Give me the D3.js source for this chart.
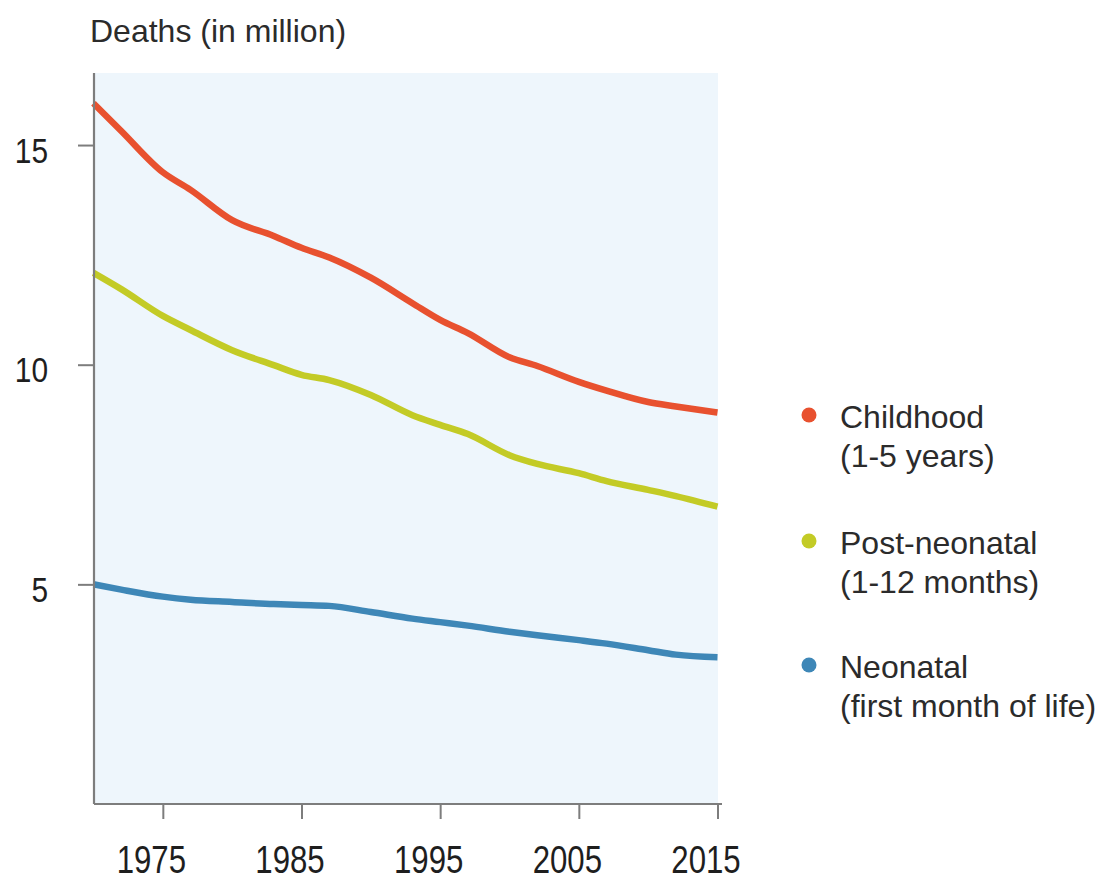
<!DOCTYPE html>
<html>
<head>
<meta charset="utf-8">
<script src="https://cdn.jsdelivr.net/npm/d3@7"></script>
<style>
  html, body { margin: 0; padding: 0; background: #ffffff; }
  svg { display: block; font-family: "Liberation Sans", Arial, Helvetica, sans-serif; }
</style>
</head>
<body>
<svg id="chart" width="1105" height="882"></svg>
<script>
// Under-five deaths worldwide, by age group (millions)
const years = [1970, 1972, 1975, 1977, 1980, 1983, 1985, 1987, 1990, 1993, 1995, 1997, 2000, 2002, 2005, 2007, 2010, 2012, 2015];

const childhood    = [15.95, 15.32, 14.38, 13.98, 13.29, 12.93, 12.66, 12.44, 11.98, 11.40, 11.02, 10.72, 10.17, 9.97, 9.61, 9.41, 9.15, 9.05, 8.91];
const postNeonatal = [12.09, 11.72, 11.11, 10.79, 10.33, 9.99, 9.77, 9.65, 9.31, 8.85, 8.63, 8.42, 7.94, 7.74, 7.53, 7.35, 7.15, 7.01, 6.77];
const neonatal     = [5.00, 4.88, 4.72, 4.65, 4.60, 4.55, 4.53, 4.51, 4.37, 4.22, 4.14, 4.06, 3.92, 3.84, 3.73, 3.65, 3.50, 3.40, 3.34];

const xTicks = [1975, 1985, 1995, 2005, 2015];
const yTicks = [5, 10, 15];

const seriesNames = ["Childhood", "Post-neonatal", "Neonatal"];
const seriesSubtitles = ["(1-5 years)", "(1-12 months)", "(first month of life)"];
const seriesColors = ["#e8512f", "#c3cb26", "#3e87b7"];
const seriesValues = [childhood, postNeonatal, neonatal];

const svg = d3.select("#chart");

const plot = { left: 94, right: 718, top: 73, bottom: 804 };

const x = d3.scaleLinear().domain([1970, 2015]).range([93.5, 717.5]);
const y = d3.scaleLinear().domain([0, 16.64]).range([plot.bottom, plot.top]);

// plot background
svg.append("rect")
  .attr("x", plot.left)
  .attr("y", plot.top)
  .attr("width", plot.right - plot.left)
  .attr("height", plot.bottom - plot.top)
  .attr("fill", "#eef6fc");

// axis title
svg.append("text")
  .attr("x", 90)
  .attr("y", 42)
  .attr("font-size", 32)
  .attr("fill", "#2b2b2b")
  .text("Deaths (in million)");

// lines
const line = d3.line()
  .x(d => x(d[0]))
  .y(d => y(d[1]))
  .curve(d3.curveMonotoneX);

seriesValues.forEach((vals, i) => {
  svg.append("path")
    .datum(years.map((yr, j) => [yr, vals[j]]))
    .attr("d", line)
    .attr("fill", "none")
    .attr("stroke", seriesColors[i])
    .attr("stroke-width", 6.5)
    .attr("stroke-linecap", "butt")
    .attr("stroke-linejoin", "round");
});

// x axis
const xAxis = svg.append("g")
  .attr("transform", `translate(0,${plot.bottom})`)
  .call(d3.axisBottom(x).tickValues(xTicks).tickFormat(d3.format("d")).tickSize(15).tickSizeOuter(0));
xAxis.select(".domain").remove();
xAxis.selectAll(".tick line").attr("stroke", "#7d7d7d").attr("stroke-width", 2);
xAxis.selectAll(".tick text")
  .attr("y", 69).attr("dy", null)
  .attr("font-size", 39)
  .attr("font-family", "Liberation Sans, Arial, sans-serif")
  .attr("fill", "#1e1e1e")
  .attr("transform", "translate(-12,0) scale(0.8,1)");

svg.append("line")
  .attr("x1", plot.left).attr("x2", 722)
  .attr("y1", plot.bottom).attr("y2", plot.bottom)
  .attr("stroke", "#7d7d7d").attr("stroke-width", 2.2);

// y axis
const yAxis = svg.append("g")
  .attr("transform", `translate(${plot.left},0)`)
  .call(d3.axisLeft(y).tickValues(yTicks).tickFormat(d3.format("d")).tickSize(16).tickSizeOuter(0));
yAxis.select(".domain").remove();
yAxis.selectAll(".tick line").attr("stroke", "#7d7d7d").attr("stroke-width", 2);
yAxis.selectAll(".tick text")
  .attr("x", 0).attr("dy", null).attr("y", 17)
  .attr("text-anchor", "end")
  .attr("font-size", 36)
  .attr("font-family", "Liberation Sans, Arial, sans-serif")
  .attr("fill", "#1e1e1e")
  .attr("transform", "translate(-46,0) scale(0.83,1)");

svg.append("line")
  .attr("x1", plot.left).attr("x2", plot.left)
  .attr("y1", plot.top).attr("y2", plot.bottom)
  .attr("stroke", "#7d7d7d").attr("stroke-width", 2.2);

// legend
const legend = svg.append("g").attr("transform", "translate(809,0)");
const legendBaselines = [428, 554, 678];
seriesNames.forEach((name, i) => {
  const g = legend.append("g").attr("transform", `translate(0,${legendBaselines[i]})`);
  g.append("circle")
    .attr("cx", 0).attr("cy", -13)
    .attr("r", 7.5)
    .attr("fill", seriesColors[i]);
  g.append("text")
    .attr("x", 31).attr("y", 0)
    .attr("font-size", 32)
    .attr("fill", "#2b2b2b")
    .text(name);
  g.append("text")
    .attr("x", 31).attr("y", 39)
    .attr("font-size", 32)
    .attr("fill", "#2b2b2b")
    .text(seriesSubtitles[i]);
});
</script>
</body>
</html>
